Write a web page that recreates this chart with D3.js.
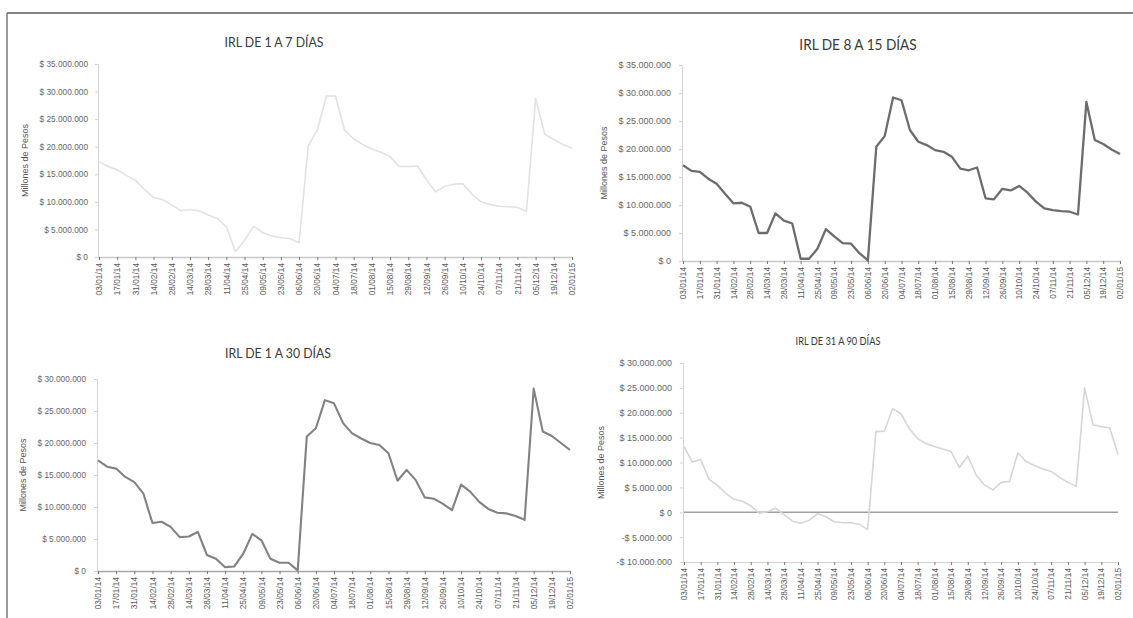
<!DOCTYPE html>
<html><head><meta charset="utf-8">
<script src="https://cdn.jsdelivr.net/npm/d3@7"></script>
<style>body{margin:0;background:#fff}svg{display:block}</style>
</head><body><svg id="c" width="1133" height="618"></svg>
<script>
// Weekly cut-off dates (categories)
const weeks = ["03/01/14","10/01/14","17/01/14","24/01/14","31/01/14","07/02/14","14/02/14","21/02/14","28/02/14",
  "07/03/14","14/03/14","21/03/14","28/03/14","04/04/14","11/04/14","18/04/14","25/04/14","02/05/14","09/05/14",
  "16/05/14","23/05/14","30/05/14","06/06/14","13/06/14","20/06/14","27/06/14","04/07/14","11/07/14","18/07/14",
  "25/07/14","01/08/14","08/08/14","15/08/14","22/08/14","29/08/14","05/09/14","12/09/14","19/09/14","26/09/14",
  "03/10/14","10/10/14","17/10/14","24/10/14","31/10/14","07/11/14","14/11/14","21/11/14","28/11/14","05/12/14",
  "12/12/14","19/12/14","26/12/14","02/01/15"];
// Axis labels shown every second week
const tickLabels = ["03/01/14","17/01/14","31/01/14","14/02/14","28/02/14","14/03/14","28/03/14","11/04/14","25/04/14",
  "09/05/14","23/05/14","06/06/14","20/06/14","04/07/14","18/07/14","01/08/14","15/08/14","29/08/14","12/09/14",
  "26/09/14","10/10/14","24/10/14","07/11/14","21/11/14","05/12/14","19/12/14","02/01/15"];

// IRL by band, millions of pesos
const irl1a7 = [17.3,16.4,15.8,14.8,13.9,12.2,10.8,10.4,9.4,8.4,8.6,8.4,7.6,7.0,5.5,1.0,3.0,5.6,4.4,3.8,3.5,3.3,2.6,
  20.2,23.0,29.2,29.2,23.0,21.4,20.4,19.6,19.0,18.2,16.4,16.4,16.5,14.0,11.8,12.8,13.2,13.3,11.4,10.0,9.5,9.2,9.1,9.0,8.3,
  28.8,22.3,21.3,20.4,19.7];
const irl8a15 = [17.1,16.1,15.9,14.7,13.8,12.0,10.3,10.4,9.7,5.0,5.0,8.5,7.2,6.7,0.4,0.4,2.2,5.7,4.4,3.2,3.1,1.4,0.1,
  20.4,22.3,29.2,28.7,23.4,21.3,20.7,19.8,19.5,18.6,16.5,16.2,16.7,11.2,11.0,12.9,12.6,13.4,12.2,10.6,9.4,9.1,8.9,8.8,8.3,
  28.4,21.6,20.9,19.9,19.1];
const irl1a30 = [17.3,16.3,16.0,14.7,13.9,12.1,7.5,7.7,6.9,5.3,5.4,6.1,2.5,1.9,0.6,0.7,2.7,5.8,4.8,1.9,1.3,1.3,0.1,
  21.0,22.3,26.7,26.2,23.1,21.5,20.7,20.0,19.7,18.4,14.1,15.8,14.2,11.5,11.3,10.5,9.5,13.5,12.4,10.8,9.7,9.1,9.0,8.6,8.0,
  28.5,21.8,21.1,20.0,18.9];
const irl31a90 = [13.2,10.1,10.6,6.6,5.4,3.8,2.6,2.2,1.3,-0.2,0.1,0.8,-0.5,-1.8,-2.2,-1.6,-0.3,-0.9,-1.9,-2.1,-2.1,-2.4,-3.5,
  16.2,16.3,20.8,19.8,16.8,14.8,13.8,13.2,12.7,12.2,9.0,11.3,7.5,5.5,4.5,6.0,6.2,11.9,10.2,9.4,8.7,8.2,7.0,6.0,5.2,
  25.0,17.6,17.2,17.0,11.6];

const titles = ["IRL DE 1 A 7 DÍAS","IRL DE 8 A 15 DÍAS","IRL DE 1 A 30 DÍAS","IRL DE 31 A 90 DÍAS"];
const yDomains = [[0,35],[0,35],[0,30],[-10,30]];

const svg = d3.select("#c");
const FONT = "'Liberation Sans', Arial, sans-serif";
const TFONT = "Lato, 'Open Sans', sans-serif";

// page frame
svg.append("line").attr("x1",7).attr("y1",13).attr("x2",1133).attr("y2",13).attr("stroke","#5a5a5a").attr("stroke-width",1.5);
svg.append("line").attr("x1",7).attr("y1",13).attr("x2",7).attr("y2",618).attr("stroke","#7a7a7a").attr("stroke-width",1.5);

const panels = [
  {vals: irl1a7, x0: 99, x1: 572, yT: 64, yB: 257, lab: 88, ytx: 28, tx: 274, ty: 47, tsize: 14, ls: 8.3, line: "#e2e2e2", lw: 1.6, axis: "#c8c8c8"},
  {vals: irl8a15, x0: 683, x1: 1120, yT: 65, yB: 261, lab: 671, ytx: 607, tx: 858, ty: 50, tsize: 15.5, ls: 9, line: "#6c6c6c", lw: 2.3, axis: "#c8c8c8"},
  {vals: irl1a30, x0: 98, x1: 570, yT: 379, yB: 571, lab: 86, ytx: 26, tx: 278, ty: 358, tsize: 14, ls: 8.3, line: "#828282", lw: 2.1, axis: "#a8a8a8"},
  {vals: irl31a90, x0: 684, x1: 1118, yT: 363, yB: 562, lab: 672, ytx: 604, tx: 838, ty: 345, tsize: 10.5, ls: 9, line: "#d6d6d6", lw: 1.6, axis: "#c8c8c8"}
];

const fmt = v => {
  const n = Math.abs(v) * 1e6;
  const s = d3.format(",")(n).replace(/,/g, ".");
  return (v < 0 ? "-" : "") + "$ " + s;
};

panels.forEach((p, k) => {
  const g = svg.append("g");
  const x = d3.scalePoint().domain(weeks).range([p.x0, p.x1]);
  const y = d3.scaleLinear().domain(yDomains[k]).range([p.yB, p.yT]);
  const yTicks = d3.range(yDomains[k][0], yDomains[k][1] + 0.1, 5);

  // title, slightly condensed
  g.append("text").attr("transform", `translate(${p.tx},${p.ty}) scale(0.88,1)`).attr("text-anchor", "middle")
    .style("font-family", TFONT).style("font-size", p.tsize + "px").attr("fill", "#3a3a3a").text(titles[k]);

  // value axis
  const ya = d3.axisLeft(y).tickValues(yTicks).tickSize(3).tickFormat(fmt);
  const yg = g.append("g").attr("transform", `translate(${p.x0 - 1},0)`).call(ya);
  yg.select(".domain").attr("stroke", "#d4d4d4");
  yg.selectAll(".tick line").attr("stroke", "#d4d4d4");
  yg.selectAll("text").attr("x", p.lab - p.x0 + 1).attr("fill", "#666")
    .style("font-family", FONT).style("font-size", p.ls + "px");

  // y title
  g.append("text").attr("transform", `translate(${p.ytx},${(p.yT + p.yB) / 2}) rotate(-90)`)
    .attr("text-anchor", "middle").style("font-family", FONT).style("font-size", "9px")
    .attr("fill", "#555").text("Millones de Pesos");

  // category axis at bottom of plot
  const xa = d3.axisBottom(x).tickValues(tickLabels).tickSize(3);
  const xg = g.append("g").attr("transform", `translate(0,${p.yB})`).call(xa);
  xg.select(".domain").attr("stroke", k === 3 ? "#d4d4d4" : p.axis).attr("stroke-width", k === 3 ? 1 : 1.3);
  xg.selectAll(".tick line").attr("stroke", "#777");
  xg.selectAll("text").attr("transform", "rotate(-90)").attr("text-anchor", "end")
    .attr("x", -6).attr("y", 0).attr("dy", "0.32em").attr("fill", "#5a5a5a")
    .style("font-family", FONT).style("font-size", "8.3px");

  // zero line for the band with negative values
  if (yDomains[k][0] < 0) {
    g.append("line").attr("x1", p.x0).attr("x2", p.x1).attr("y1", y(0)).attr("y2", y(0))
      .attr("stroke", "#a0a0a0").attr("stroke-width", 1.4);
  }

  // series line
  g.append("path").datum(p.vals).attr("fill", "none").attr("stroke", p.line)
    .attr("stroke-width", p.lw).attr("stroke-linejoin", "round")
    .attr("d", d3.line().x((d, i) => x(weeks[i])).y(d => y(d)));
});
</script></body></html>
